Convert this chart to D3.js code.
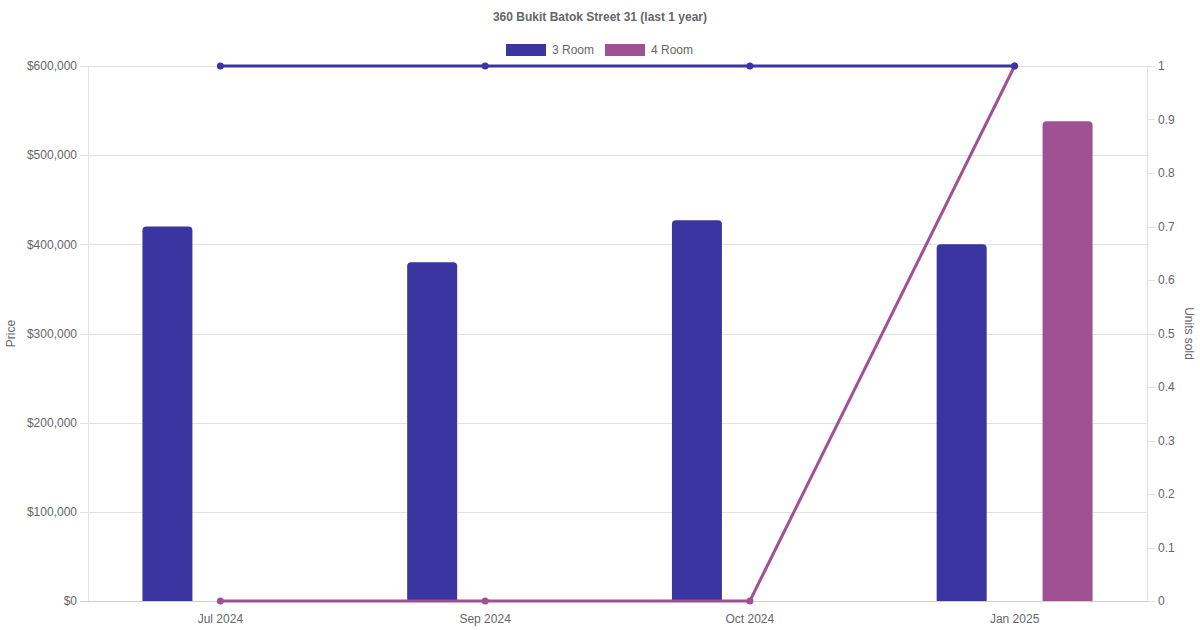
<!DOCTYPE html>
<html><head><meta charset="utf-8">
<script src="https://cdn.jsdelivr.net/npm/d3@7"></script>
<style>body{margin:0;background:#fff;}svg{display:block;font-family:"Liberation Sans",Arial,Helvetica,sans-serif;}</style>
</head><body>
<svg id="c" width="1200" height="630"></svg>
<script>
const categories = ["Jul 2024","Sep 2024","Oct 2024","Jan 2025"];
const seriesNames = ["3 Room","4 Room"];
const price3Room = [420000, 380000, 427000, 400000];
const price4Room = [null, null, null, 538000];
const units3Room = [1, 1, 1, 1];
const units4Room = [0, 0, 0, 1];
const priceTicks = [0,100000,200000,300000,400000,500000,600000];
const unitTicks = [0,0.1,0.2,0.3,0.4,0.5,0.6,0.7,0.8,0.9,1];
const colors = ["#3a35a0","#9f5194"];
const title = "360 Bukit Batok Street 31 (last 1 year)";

const svg = d3.select("#c");
const L = 88, R = 1147, T = 66, B = 601;
const x = d3.scaleBand().domain(categories).range([L,R]);
const yP = d3.scaleLinear().domain([0,600000]).range([B,T]);
const yU = d3.scaleLinear().domain([0,1]).range([B,T]);
const sub = d3.scaleBand().domain(seriesNames).range([0,x.bandwidth()]).paddingOuter(0).paddingInner(0);
const subW = x.bandwidth()*0.8/2;
const barW = 50;
const txt = "#666", grid = "#e1e1e1";

// gridlines
svg.append("g").selectAll("line").data(priceTicks).join("line")
  .attr("x1",L-8).attr("x2",R).attr("y1",d=>Math.round(yP(d))+0.5).attr("y2",d=>Math.round(yP(d))+0.5)
  .attr("stroke",d=>d===0?"#cfcfcf":grid).attr("stroke-width",1);
// right ticks
svg.append("g").selectAll("line").data(unitTicks).join("line")
  .attr("x1",R).attr("x2",R+8).attr("y1",d=>Math.round(yU(d))+0.5).attr("y2",d=>Math.round(yU(d))+0.5)
  .attr("stroke",grid);
// axis borders
svg.append("line").attr("x1",L+0.5).attr("x2",L+0.5).attr("y1",T).attr("y2",B).attr("stroke",grid);
svg.append("line").attr("x1",R+0.5).attr("x2",R+0.5).attr("y1",T).attr("y2",B).attr("stroke",grid);

// tick labels
svg.append("g").selectAll("text").data(priceTicks).join("text")
  .attr("x",L-11).attr("y",d=>yP(d)).attr("dy","0.35em").attr("text-anchor","end")
  .attr("font-size",12).attr("fill",txt)
  .text(d=>"$"+d3.format(",")(d));
svg.append("g").selectAll("text").data(unitTicks).join("text")
  .attr("x",R+11).attr("y",d=>yU(d)).attr("dy","0.35em").attr("text-anchor","start")
  .attr("font-size",12).attr("fill",txt)
  .text(d=>d3.format("~g")(d));
svg.append("g").selectAll("text").data(categories).join("text")
  .attr("x",d=>x(d)+x.bandwidth()/2).attr("y",619).attr("dy","0.35em").attr("text-anchor","middle")
  .attr("font-size",12).attr("fill",txt).text(d=>d);

// axis titles
svg.append("text").attr("transform",`translate(15,${(T+B)/2}) rotate(-90)`).attr("text-anchor","middle")
  .attr("font-size",12).attr("fill",txt).text("Price");
svg.append("text").attr("transform",`translate(1185,${(T+B)/2}) rotate(90)`).attr("text-anchor","middle")
  .attr("font-size",12).attr("fill",txt).text("Units sold");

// title
svg.append("text").attr("x",600).attr("y",17).attr("dy","0.35em").attr("text-anchor","middle")
  .attr("font-size",12).attr("font-weight","bold").attr("fill",txt).text(title);

// legend
const legend = [{n:seriesNames[0],c:colors[0],x:506},{n:seriesNames[1],c:colors[1],x:605}];
legend.forEach(l=>{
  svg.append("rect").attr("x",l.x).attr("y",44).attr("width",40).attr("height",12).attr("fill",l.c);
  svg.append("text").attr("x",l.x+46).attr("y",50).attr("dy","0.35em").attr("font-size",12).attr("fill",txt).text(l.n);
});

// bars with rounded top corners
function barPath(x0,w,yTop,yBot,r){
  return `M${x0},${yBot}L${x0},${yTop+r}Q${x0},${yTop} ${x0+r},${yTop}L${x0+w-r},${yTop}Q${x0+w},${yTop} ${x0+w},${yTop+r}L${x0+w},${yBot}Z`;
}
const priceSeries = [price3Room, price4Room];
priceSeries.forEach((vals,si)=>{
  svg.append("g").selectAll("path").data(vals.map((v,i)=>({v,c:categories[i]})).filter(d=>d.v!=null)).join("path")
    .attr("fill",colors[si])
    .attr("d",d=>{
      const cx = x(d.c)+x.bandwidth()/2 + (si===0?-1:1)*subW/2;
      return barPath(cx-barW/2,barW,yP(d.v),yP(0),4);
    });
});

// lines
const unitSeries = [units3Room, units4Room];
const lineGen = d3.line().x(d=>x(d.c)+x.bandwidth()/2).y(d=>yU(d.v));
[1,0].forEach(si=>{
  const data = unitSeries[si].map((v,i)=>({v,c:categories[i]}));
  svg.append("path").datum(data).attr("d",lineGen).attr("fill","none")
    .attr("stroke",colors[si]).attr("stroke-width",3);
  svg.append("g").selectAll("circle").data(data).join("circle")
    .attr("cx",d=>x(d.c)+x.bandwidth()/2).attr("cy",d=>yU(d.v)).attr("r",3.5).attr("fill",colors[si]);
});
</script>
</body></html>
